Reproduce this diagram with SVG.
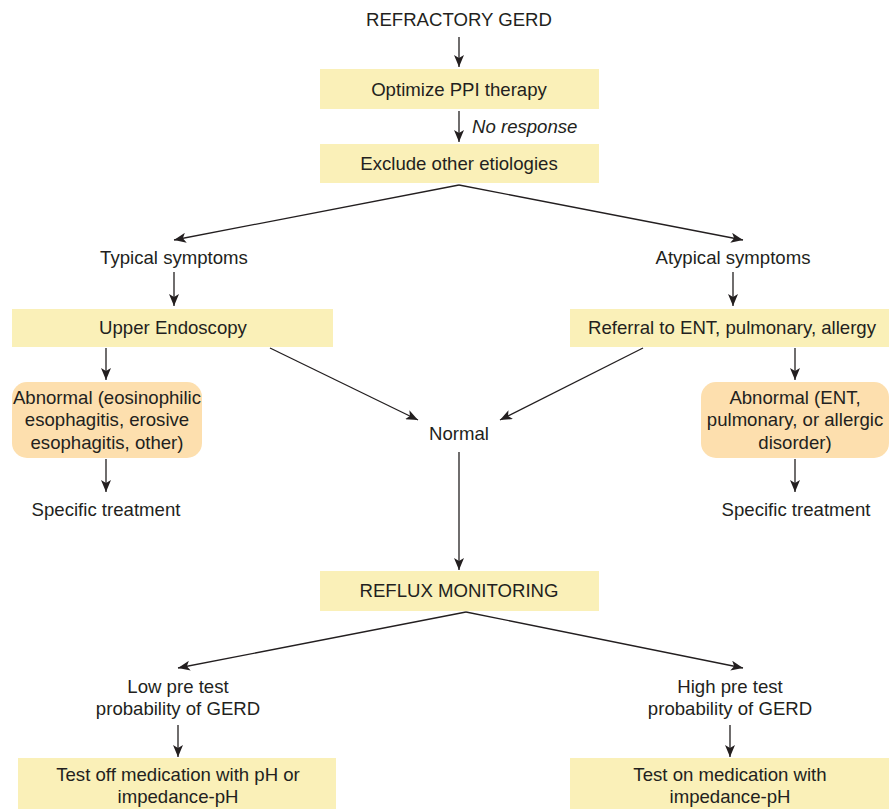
<svg xmlns="http://www.w3.org/2000/svg" width="889" height="809" viewBox="0 0 889 809">
<defs>
<marker id="ah" viewBox="0 0 12 10" refX="12" refY="5" markerWidth="12" markerHeight="10" markerUnits="userSpaceOnUse" orient="auto">
<path d="M0,0 L12,5 L0,10 L3,5 Z" fill="#231f20"/>
</marker>
<style>
.t{font-family:"Liberation Sans",Arial,sans-serif;font-size:18.6px;fill:#231f20;text-anchor:middle}
.n{font-size:18.6px}
.y{fill:#faf0b8}
.o{fill:#fddfae}
.c line{stroke:#231f20;stroke-width:1.3;marker-end:url(#ah)}
</style>
</defs>
<rect width="889" height="809" fill="#ffffff"/>
<g class="c" id="connectors">
<line x1="459" y1="37" x2="459" y2="67"/>
<line x1="459" y1="111" x2="459" y2="142"/>
<line x1="459" y1="185" x2="174" y2="240"/>
<line x1="459" y1="185" x2="743" y2="240"/>
<line x1="174" y1="272" x2="174" y2="306"/>
<line x1="733" y1="272" x2="733" y2="306"/>
<line x1="106" y1="348" x2="106" y2="380"/>
<line x1="795" y1="348" x2="795" y2="380"/>
<line x1="106" y1="459" x2="106" y2="492"/>
<line x1="795" y1="459" x2="795" y2="492"/>
<line x1="270" y1="348" x2="418" y2="420"/>
<line x1="643" y1="348" x2="500" y2="420"/>
<line x1="459" y1="452" x2="459" y2="570"/>
<line x1="466" y1="612" x2="178" y2="668"/>
<line x1="466" y1="612" x2="743" y2="668"/>
<line x1="178" y1="725" x2="178" y2="757"/>
<line x1="730" y1="725" x2="730" y2="757"/>
</g>
<g id="refractory"><text class="t" x="459" y="26">REFRACTORY GERD</text></g>
<g id="optimize"><rect class="y" x="320" y="69" width="279" height="40"/><text class="t" x="459" y="96">Optimize PPI therapy</text></g>
<g id="noresponse"><text class="t" x="472" y="133" style="text-anchor:start;font-style:italic">No response</text></g>
<g id="exclude"><rect class="y" x="320" y="144" width="279" height="39"/><text class="t" x="459" y="170">Exclude other etiologies</text></g>
<g id="typical"><text class="t" x="174" y="264">Typical symptoms</text></g>
<g id="atypical"><text class="t" x="733" y="264">Atypical symptoms</text></g>
<g id="endoscopy"><rect class="y" x="12" y="309" width="321" height="38"/><text class="t" x="173" y="334">Upper Endoscopy</text></g>
<g id="referral"><rect class="y" x="570" y="309" width="319" height="38"/><text class="t" x="732" y="334">Referral to ENT, pulmonary, allergy</text></g>
<g id="abnormal-left"><rect class="o" x="12" y="382" width="190" height="76" rx="15"/><text class="t" x="107" y="404">Abnormal (eosinophilic</text><text class="t" x="107" y="426">esophagitis, erosive</text><text class="t" x="107" y="449">esophagitis, other)</text></g>
<g id="abnormal-right"><rect class="o" x="701" y="382" width="188" height="76" rx="15"/><text class="t" x="795" y="404">Abnormal (ENT,</text><text class="t" x="795" y="426">pulmonary, or allergic</text><text class="t" x="795" y="449">disorder)</text></g>
<g id="treat-left"><text class="t" x="106" y="516">Specific treatment</text></g>
<g id="treat-right"><text class="t" x="796" y="516">Specific treatment</text></g>
<g id="normal"><text class="t" x="459" y="440">Normal</text></g>
<g id="reflux"><rect class="y" x="320" y="571" width="279" height="40"/><text class="t" x="459" y="597">REFLUX MONITORING</text></g>
<g id="low"><text class="t n" x="178" y="693">Low pre test</text><text class="t n" x="178" y="715">probability of GERD</text></g>
<g id="high"><text class="t n" x="730" y="693">High pre test</text><text class="t n" x="730" y="715">probability of GERD</text></g>
<g id="test-off"><rect class="y" x="18" y="758" width="318" height="51"/><text class="t n" x="178" y="781">Test off medication with pH or</text><text class="t n" x="178" y="803">impedance-pH</text></g>
<g id="test-on"><rect class="y" x="570" y="758" width="319" height="51"/><text class="t n" x="730" y="781">Test on medication with</text><text class="t n" x="730" y="803">impedance-pH</text></g>
</svg>
